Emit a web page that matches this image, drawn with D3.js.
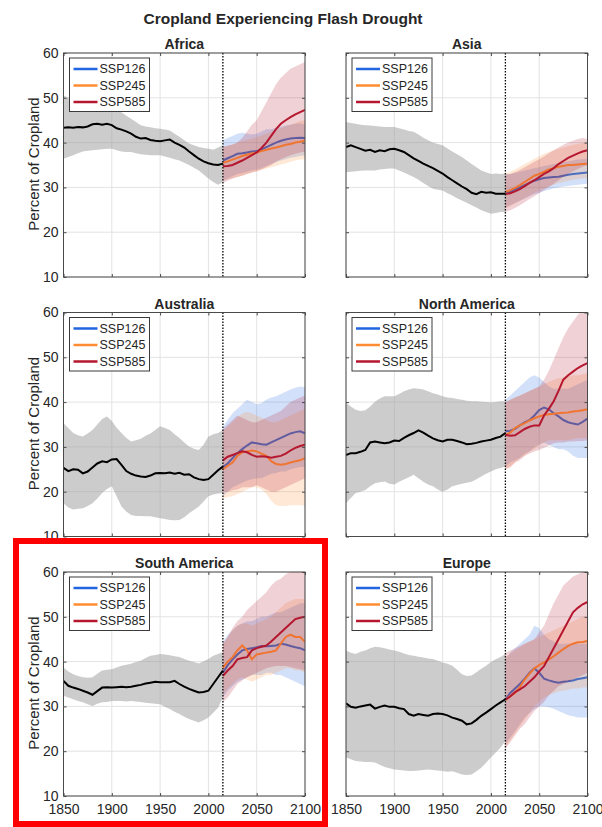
<!DOCTYPE html>
<html><head><meta charset="utf-8">
<script src="https://cdn.jsdelivr.net/npm/d3@7"></script>
<style>body{margin:0;background:#fff} svg{display:block;font-family:"Liberation Sans",Arial,Helvetica,sans-serif}</style>
</head><body><svg id="c" width="602" height="827"></svg>
<script>
const histYears = [1850,1855,1860,1865,1870,1875,1880,1885,1890,1895,1900,1905,1910,1915,1920,1925,1930,1935,1940,1945,1950,1955,1960,1965,1970,1975,1980,1985,1990,1995,2000,2005,2010,2015];
const futYears = [2015,2020,2025,2030,2035,2040,2045,2050,2055,2060,2065,2070,2075,2080,2085,2090,2095,2100];
const scenarios = ["SSP126","SSP245","SSP585"];
const scenarioColors = ["#2166e0","#ff8c32","#b5172f"];
const xTicks = [1850,1900,1950,2000,2050,2100];
const yTicks = [10,20,30,40,50,60];
const regions = ["Africa","Asia","Australia","North America","South America","Europe"];
const chartTitle = "Cropland Experiencing Flash Drought";
const yLabel = "Percent of Cropland";

// ---- Africa ----
const africaMean = [43.3,43.4,43.3,43.5,43.4,43.6,44.1,44.2,44.0,44.2,43.9,43.2,42.9,42.5,42.0,41.3,40.9,41.0,40.6,40.4,40.3,40.5,40.7,40.0,39.5,38.9,38.0,37.2,36.4,35.8,35.4,35.1,35.0,35.3];
const africaHi = [50.5,50.0,49.4,48.8,48.3,48.5,48.8,49.3,49.5,48.9,48.3,47.5,46.8,46.0,45.3,44.6,43.9,43.6,43.4,43.2,43.1,42.9,42.7,42.0,41.3,40.5,39.8,39.4,39.0,38.8,38.6,38.4,38.9,39.4];
const africaLo = [36.4,36.8,37.2,37.6,38.0,38.2,38.3,38.4,38.5,38.6,38.6,38.3,38.0,37.9,37.9,37.6,37.4,37.3,37.2,37.2,37.2,36.9,36.6,36.3,36.0,35.5,35.0,34.4,33.8,32.9,32.0,31.2,30.6,31.2];
const africa126 = [36.0,36.5,37.0,37.5,37.6,37.8,38.0,38.1,38.5,39.0,39.5,40.0,40.4,40.7,40.9,41.0,41.1,41.0];
const africa126Hi = [40.5,41.0,41.5,42.0,42.2,42.0,41.8,42.0,42.5,43.0,43.0,43.3,43.5,43.8,44.0,44.2,44.3,44.0];
const africa126Lo = [31.5,32.0,32.5,33.0,33.2,33.5,33.8,34.0,34.3,34.8,35.2,35.6,36.0,36.3,36.6,36.8,37.0,37.2];
const africa245 = [35.5,35.8,36.2,36.6,37.0,37.3,37.6,37.8,38.1,38.4,38.7,38.9,39.2,39.5,39.7,40.0,40.2,40.5];
const africa245Hi = [39.0,39.3,39.6,40.0,40.3,40.6,40.9,41.2,41.6,42.0,42.4,42.8,43.2,43.6,44.0,44.4,44.8,45.0];
const africa245Lo = [31.5,31.8,32.0,32.3,32.6,33.0,33.3,33.6,33.9,34.2,34.5,34.8,35.1,35.4,35.7,36.0,36.2,36.3];
const africa585 = [34.7,34.8,35.0,35.5,36.0,36.6,37.2,37.8,38.8,40.0,41.5,43.0,44.2,45.0,45.7,46.3,46.8,47.3];
const africa585Hi = [39.0,39.3,39.6,40.0,41.0,42.5,44.0,45.0,47.0,49.0,51.0,53.0,54.5,55.5,56.5,57.0,57.5,58.0];
const africa585Lo = [31.0,31.5,32.0,32.3,32.6,33.0,33.3,33.6,34.0,34.5,35.0,35.8,36.3,36.8,37.2,37.5,37.8,38.0];

// ---- Asia ----
const asiaMean = [39.0,39.4,39.0,38.6,38.2,38.4,37.9,38.3,38.1,38.5,38.6,38.3,37.9,37.2,36.5,35.9,35.3,34.8,34.3,33.7,33.1,32.3,31.6,30.9,30.2,29.6,28.8,28.5,29.0,28.8,28.9,28.6,28.6,28.6];
const asiaHi = [44.6,44.4,44.2,44.0,43.9,43.8,43.7,43.6,43.5,43.5,43.5,43.2,42.9,42.6,42.4,41.8,41.1,40.5,40.0,39.7,39.4,38.7,38.0,37.4,36.8,36.0,35.2,34.5,33.8,33.4,33.0,33.1,33.0,33.1];
const asiaLo = [33.4,33.5,33.6,33.7,33.8,33.8,33.8,34.0,34.1,34.2,34.2,33.8,33.3,32.8,32.3,31.7,31.0,30.3,29.7,29.5,29.3,28.7,28.2,27.6,27.1,26.6,26.0,25.5,24.9,24.5,24.1,24.3,24.5,24.5];
const asia126 = [28.6,29.0,29.5,30.0,30.5,31.0,31.5,31.8,32.1,32.2,32.3,32.4,32.6,32.8,33.0,33.1,33.2,33.3];
const asia126Hi = [33.0,33.0,33.2,33.5,33.8,34.0,34.3,34.5,34.8,35.0,35.2,35.4,35.6,35.8,36.0,36.2,36.3,36.4];
const asia126Lo = [25.5,26.0,26.5,27.0,27.5,28.0,28.5,28.8,29.2,29.5,29.8,30.0,30.2,30.3,30.5,30.6,30.7,30.8];
const asia245 = [29.0,29.4,29.9,30.5,31.2,31.9,32.6,33.0,33.5,34.0,34.3,34.6,34.8,35.0,35.0,35.1,35.2,35.3];
const asia245Hi = [33.2,33.5,34.0,34.6,35.2,35.8,36.4,37.0,37.5,37.9,38.3,38.6,38.9,39.2,39.5,39.7,39.9,40.0];
const asia245Lo = [25.3,25.8,26.4,27.0,27.6,28.2,28.8,29.3,29.8,30.2,30.6,31.0,31.2,31.5,31.7,31.9,32.0,32.1];
const asia585 = [28.5,28.7,29.1,29.6,30.3,31.0,31.6,32.3,33.0,33.6,34.3,35.2,35.9,36.6,37.1,37.6,38.0,38.3];
const asia585Hi = [32.8,33.0,33.4,33.9,34.5,35.1,35.7,36.3,36.9,37.6,38.3,38.9,39.5,40.0,40.4,40.8,41.0,40.8];
const asia585Lo = [24.5,24.9,25.4,26.0,26.7,27.4,28.0,28.7,29.4,30.1,30.8,31.6,32.3,33.0,33.6,34.1,34.6,35.0];

// ---- Australia ----
const australiaMean = [25.3,24.6,25.0,24.9,24.1,24.5,25.4,26.3,26.8,26.6,27.2,27.3,26.0,24.6,24.0,23.6,23.4,23.3,23.6,24.1,24.2,24.1,24.3,24.0,24.2,23.8,23.9,23.2,22.8,22.6,22.8,23.8,24.8,25.6];
const australiaHi = [35.3,34.2,33.1,32.6,32.3,33.0,33.8,35.0,36.2,36.8,35.8,34.3,33.1,32.0,31.2,31.5,31.8,32.5,33.0,33.8,34.6,34.2,33.8,32.8,32.0,31.0,30.1,29.6,29.3,30.5,32.3,32.8,33.1,33.8];
const australiaLo = [17.4,16.5,16.0,16.2,16.3,16.8,17.4,18.5,19.7,20.6,21.2,19.0,16.7,15.6,14.8,14.6,14.6,14.5,14.5,14.3,14.1,13.9,13.7,13.6,13.7,14.3,15.2,15.9,16.7,17.8,19.0,19.4,19.6,19.7];
const australia126 = [25.5,26.3,27.5,28.6,29.5,30.3,31.0,30.8,30.6,30.5,31.0,31.5,32.0,32.5,33.0,33.3,33.5,33.0];
const australia126Hi = [34.5,36.0,37.5,38.5,39.5,40.5,40.0,39.5,39.8,40.5,41.0,41.3,41.8,42.3,42.8,43.2,43.5,43.3];
const australia126Lo = [19.0,20.0,21.0,21.5,22.0,22.5,22.8,23.0,23.0,23.5,24.0,24.2,24.5,24.5,25.0,25.3,25.5,25.5];
const australia245 = [25.0,25.8,26.5,28.0,28.8,29.0,29.2,29.0,28.5,28.0,26.8,26.2,26.0,26.2,26.5,26.8,27.0,27.5];
const australia245Hi = [33.5,34.5,35.5,36.5,37.5,37.8,37.5,37.0,36.5,36.0,35.5,35.5,36.0,36.5,37.0,37.5,38.0,38.5];
const australia245Lo = [18.5,18.8,19.0,19.5,20.0,20.5,21.0,21.0,20.5,19.5,18.0,17.0,16.8,16.8,17.0,17.0,17.0,16.8];
const australia585 = [27.0,27.8,28.2,28.6,29.0,28.8,28.2,27.8,27.9,27.8,27.6,27.8,28.0,28.5,29.2,29.8,30.2,30.5];
const australia585Hi = [34.0,35.0,36.0,37.0,36.5,36.0,35.5,35.5,36.0,36.5,37.0,37.5,38.0,39.0,40.0,40.5,41.0,41.5];
const australia585Lo = [20.0,20.0,20.3,20.5,21.0,21.0,21.0,21.5,21.0,20.5,20.0,20.0,20.5,21.0,21.5,22.0,22.5,23.0];

// ---- North America ----
const northAmericaMean = [28.2,28.6,28.6,28.9,29.3,31.0,31.2,31.0,30.8,31.0,31.4,31.3,32.0,32.6,33.1,33.7,33.2,32.5,31.9,31.5,31.2,31.6,31.6,31.3,31.0,30.6,30.7,30.9,31.2,31.4,31.6,32.0,32.3,33.1];
const northAmericaHi = [39.8,39.0,38.3,38.0,38.2,39.0,40.1,40.8,41.3,41.3,41.3,41.8,42.4,42.8,43.1,43.0,42.8,42.4,42.0,41.7,41.3,41.0,40.9,40.7,40.5,40.3,40.2,40.2,40.1,40.0,39.9,40.0,40.2,40.2];
const northAmericaLo = [17.4,18.6,19.7,20.0,20.4,21.2,21.9,22.1,22.3,21.8,21.6,22.2,22.7,23.2,23.8,23.0,22.2,21.6,21.2,20.5,20.0,20.5,21.2,21.5,21.8,22.0,22.2,22.8,23.4,24.0,24.5,25.0,25.3,25.6];
const northAmerica126 = [33.5,33.6,34.0,34.8,35.5,36.0,37.0,38.2,38.8,38.4,37.5,36.8,36.0,35.5,35.2,35.0,35.6,36.3];
const northAmerica126Hi = [40.5,41.5,42.5,43.5,44.5,45.5,46.0,45.5,44.5,43.5,43.0,43.0,43.0,43.0,43.5,44.0,44.5,45.0];
const northAmerica126Lo = [25.5,26.5,27.0,27.5,28.5,29.0,30.0,30.5,31.0,30.5,30.0,29.5,29.5,29.0,28.0,27.5,27.5,27.5];
const northAmerica245 = [32.7,33.2,34.2,34.8,35.3,35.9,36.4,36.8,37.1,37.3,37.4,37.5,37.6,37.7,37.9,38.0,38.2,38.4];
const northAmerica245Hi = [40.0,40.5,41.0,41.5,42.0,42.5,43.0,43.5,44.0,44.5,45.0,45.3,45.5,45.8,46.0,46.0,46.2,46.5];
const northAmerica245Lo = [25.0,25.5,26.5,27.5,28.0,29.0,29.5,30.5,31.0,31.5,31.5,31.5,31.5,31.5,31.8,32.0,32.0,32.0];
const northAmerica585 = [32.7,32.5,32.6,33.3,34.0,34.5,34.8,34.8,37.0,38.5,40.2,42.5,45.0,46.0,46.8,47.6,48.2,48.7];
const northAmerica585Hi = [40.0,40.5,41.0,41.5,42.0,42.5,43.0,43.5,45.0,47.0,49.5,52.0,54.5,56.5,58.0,59.5,60.5,61.0];
const northAmerica585Lo = [25.0,25.5,26.5,27.0,28.0,28.5,29.0,29.3,29.8,30.3,30.8,31.0,31.0,31.2,31.2,31.3,31.3,31.5];

// ---- South America ----
const southAmericaMean = [35.7,34.6,34.2,33.9,33.5,33.1,32.6,33.4,34.2,34.3,34.2,34.3,34.4,34.3,34.4,34.6,34.8,35.1,35.3,35.5,35.4,35.4,35.4,35.7,35.0,34.4,33.9,33.5,33.1,33.2,33.5,35.0,36.5,38.0];
const southAmericaHi = [38.7,37.8,37.2,36.8,36.5,36.4,36.5,37.3,38.0,38.2,38.3,38.7,39.1,39.3,39.5,39.9,40.2,40.8,41.3,41.5,41.7,41.6,41.4,41.2,41.0,40.6,40.2,39.9,39.6,40.1,40.6,41.3,41.7,42.1];
const southAmericaLo = [32.4,32.0,31.6,31.2,30.9,30.5,30.1,30.6,30.9,31.0,31.2,31.2,31.2,31.1,31.2,31.1,31.0,30.8,30.7,30.6,30.5,29.9,29.4,28.8,28.3,27.7,27.2,26.8,26.4,26.9,27.5,28.6,29.7,32.0];
const southAmerica126 = [37.5,39.2,40.5,41.6,42.5,42.8,43.0,43.2,43.5,43.4,43.5,43.6,44.0,43.8,43.5,43.2,43.0,42.5];
const southAmerica126Hi = [44.5,46.0,47.0,48.0,48.5,49.0,49.0,49.5,50.0,50.0,50.5,51.0,51.0,51.5,52.0,52.5,53.0,53.0];
const southAmerica126Lo = [32.0,33.5,34.5,35.5,36.0,36.5,37.0,37.0,37.0,37.5,37.5,37.0,37.0,36.5,36.0,35.5,35.0,34.5];
const southAmerica245 = [38.6,40.0,41.0,42.5,43.6,42.5,40.5,41.6,41.8,42.0,42.2,42.5,44.0,45.5,46.0,45.5,45.5,44.4];
const southAmerica245Hi = [44.0,45.5,47.0,48.0,48.5,48.5,48.0,48.5,49.0,49.5,50.0,51.0,52.0,53.0,53.5,54.0,54.0,54.0];
const southAmerica245Lo = [32.5,34.0,35.0,36.0,36.5,36.0,35.5,36.0,36.5,37.0,37.0,37.5,38.0,38.5,38.5,38.0,38.0,37.5];
const southAmerica585 = [36.8,38.0,39.0,40.5,40.8,41.0,42.5,43.0,43.3,43.6,44.5,45.5,46.5,47.5,48.5,49.5,49.8,50.0];
const southAmerica585Hi = [44.0,45.5,47.5,49.0,50.0,51.5,52.5,53.5,54.5,55.5,57.0,58.0,58.5,59.5,60.0,60.5,60.5,60.0];
const southAmerica585Lo = [31.0,32.0,33.5,35.0,35.8,36.5,37.0,37.5,38.0,38.5,38.8,39.0,39.0,39.0,38.8,38.5,38.3,38.0];

// ---- Europe ----
const europeMean = [30.7,29.9,29.7,30.0,30.2,30.4,29.5,29.9,30.2,29.9,29.9,29.6,29.4,28.3,27.9,28.3,28.1,27.9,28.3,28.4,28.3,28.0,27.5,27.2,26.8,26.0,26.2,27.0,27.9,28.6,29.4,30.2,30.9,31.6];
const europeHi = [42.5,42.0,41.7,42.2,42.5,43.0,43.3,43.2,43.0,42.7,42.5,42.2,41.8,41.5,41.3,41.1,40.9,40.7,40.6,40.2,39.8,39.5,39.1,38.2,37.2,36.8,36.9,37.6,38.4,39.1,39.9,40.5,41.0,41.7];
const europeLo = [18.6,18.2,17.8,17.7,17.6,17.6,17.5,17.0,16.5,16.2,15.9,15.8,15.7,15.6,15.6,15.7,15.8,15.9,15.8,15.7,15.6,15.4,15.5,15.2,14.8,14.7,14.8,15.5,16.3,17.4,18.6,19.7,20.8,22.3];
const europe126 = [31.5,33.0,34.0,35.0,36.2,37.5,38.5,37.5,36.2,35.8,35.5,35.3,35.5,35.6,35.8,36.1,36.3,36.5];
const europe126Hi = [40.5,42.0,43.0,44.0,45.0,46.0,48.0,47.5,46.0,45.0,44.5,44.0,44.0,44.0,44.0,44.0,44.0,44.0];
const europe126Lo = [21.5,23.0,24.5,26.0,27.5,28.5,29.5,30.0,30.0,29.8,29.5,29.0,28.5,28.0,27.8,27.5,27.5,27.5];
const europe245 = [31.5,32.3,33.0,34.3,36.0,37.3,38.5,39.2,39.8,40.5,41.2,42.0,42.8,43.5,44.0,44.3,44.4,44.6];
const europe245Hi = [41.0,41.8,42.5,43.2,44.0,44.5,45.0,45.5,46.0,46.5,47.0,47.5,48.0,48.5,49.0,49.5,50.0,50.0];
const europe245Lo = [21.0,22.5,24.0,25.5,27.0,28.5,30.0,31.0,32.0,32.5,33.0,33.3,33.5,33.7,34.0,34.0,34.2,34.3];
const europe585 = [31.5,32.2,33.2,33.8,34.5,35.5,36.5,37.8,39.0,41.0,43.0,45.0,47.0,49.0,51.0,52.0,52.8,53.3];
const europe585Hi = [42.0,42.5,43.0,43.5,44.0,44.5,45.0,46.5,48.0,50.5,53.0,55.0,57.0,58.0,59.0,59.5,60.0,60.0];
const europe585Lo = [20.5,22.0,23.5,25.0,26.0,27.5,29.0,30.0,31.0,32.5,33.5,34.5,35.0,35.5,36.0,36.5,37.0,37.5];

const panels = [
  {hist:[africaMean,africaLo,africaHi], fut:[[africa126,africa126Lo,africa126Hi],[africa245,africa245Lo,africa245Hi],[africa585,africa585Lo,africa585Hi]]},
  {hist:[asiaMean,asiaLo,asiaHi], fut:[[asia126,asia126Lo,asia126Hi],[asia245,asia245Lo,asia245Hi],[asia585,asia585Lo,asia585Hi]]},
  {hist:[australiaMean,australiaLo,australiaHi], fut:[[australia126,australia126Lo,australia126Hi],[australia245,australia245Lo,australia245Hi],[australia585,australia585Lo,australia585Hi]]},
  {hist:[northAmericaMean,northAmericaLo,northAmericaHi], fut:[[northAmerica126,northAmerica126Lo,northAmerica126Hi],[northAmerica245,northAmerica245Lo,northAmerica245Hi],[northAmerica585,northAmerica585Lo,northAmerica585Hi]]},
  {hist:[southAmericaMean,southAmericaLo,southAmericaHi], fut:[[southAmerica126,southAmerica126Lo,southAmerica126Hi],[southAmerica245,southAmerica245Lo,southAmerica245Hi],[southAmerica585,southAmerica585Lo,southAmerica585Hi]]},
  {hist:[europeMean,europeLo,europeHi], fut:[[europe126,europe126Lo,europe126Hi],[europe245,europe245Lo,europe245Hi],[europe585,europe585Lo,europe585Hi]]}
];

const svg = d3.select("#c");
const W = 241.5, H = 224;
const colX = [63.5, 346], rowY = [53, 312.5, 572];
const axisColor = "#4a4a4a", textColor = "#262626";

svg.append("text").attr("x", 283).attr("y", 24).attr("text-anchor","middle")
  .attr("font-size", 15.5).attr("font-weight","bold").attr("fill", textColor).text(chartTitle);

panels.forEach((p, i) => {
  const col = i % 2, row = Math.floor(i / 2);
  const g = svg.append("g").attr("transform", `translate(${colX[col]},${rowY[row]})`);
  const x = d3.scaleLinear().domain([1850, 2100]).range([0, W]);
  const y = d3.scaleLinear().domain([10, 60]).range([H, 0]);

  const cid = "clip" + i;
  g.append("clipPath").attr("id", cid).append("rect").attr("width", W).attr("height", H);

  // grid
  g.append("g").selectAll("line").data(xTicks).join("line")
    .attr("x1", d => x(d)).attr("x2", d => x(d)).attr("y1", 0).attr("y2", H)
    .attr("stroke", "#e3e3e3").attr("stroke-width", 1);
  g.append("g").selectAll("line").data(yTicks).join("line")
    .attr("y1", d => y(d)).attr("y2", d => y(d)).attr("x1", 0).attr("x2", W)
    .attr("stroke", "#e3e3e3").attr("stroke-width", 1);

  const plot = g.append("g").attr("clip-path", `url(#${cid})`);

  // historical band
  const hArea = d3.area().x((d, k) => x(histYears[k])).y0((d, k) => y(p.hist[1][k])).y1((d, k) => y(p.hist[2][k]));
  plot.append("path").attr("d", hArea(histYears)).attr("fill", "#9a9a9a").attr("fill-opacity", 0.5);

  // future scenarios: band then line, in order
  p.fut.forEach((s, j) => {
    const fArea = d3.area().x((d, k) => x(futYears[k])).y0((d, k) => y(s[1][k])).y1((d, k) => y(s[2][k]));
    plot.append("path").attr("d", fArea(futYears)).attr("fill", scenarioColors[j]).attr("fill-opacity", 0.2);
    const fLine = d3.line().x((d, k) => x(futYears[k])).y(d => y(d));
    plot.append("path").attr("d", fLine(s[0])).attr("fill", "none")
      .attr("stroke", scenarioColors[j]).attr("stroke-width", 2);
  });

  const hLine = d3.line().x((d, k) => x(histYears[k])).y(d => y(d));
  plot.append("path").attr("d", hLine(p.hist[0])).attr("fill", "none").attr("stroke", "#000").attr("stroke-width", 2);

  // 2015 dotted line
  g.append("line").attr("x1", x(2015)).attr("x2", x(2015)).attr("y1", 0).attr("y2", H)
    .attr("stroke", "#000").attr("stroke-width", 1.3).attr("stroke-dasharray", "1.5,1.5");

  // axes (ticks inside, on all sides)
  const fmtX = row === 2 ? d3.format("d") : () => "";
  const fmtY = col === 0 ? d3.format("d") : () => "";
  const styleAxis = a => {
    a.select(".domain").remove();
    a.selectAll("line").attr("stroke", axisColor);
    a.selectAll("text").attr("fill", textColor).attr("font-size", 14).attr("font-family", '"Liberation Sans",Arial,sans-serif');
  };
  g.append("g").attr("transform", `translate(0,${H})`)
    .call(d3.axisBottom(x).tickValues(xTicks).tickSize(-3).tickPadding(8).tickFormat(fmtX)).call(styleAxis);
  g.append("g").call(d3.axisTop(x).tickValues(xTicks).tickSize(-3).tickFormat(() => "")).call(styleAxis);
  g.append("g").call(d3.axisLeft(y).tickValues(yTicks).tickSize(-3).tickPadding(5).tickFormat(fmtY)).call(styleAxis);
  g.append("g").attr("transform", `translate(${W},0)`)
    .call(d3.axisRight(y).tickValues(yTicks).tickSize(-3).tickFormat(() => "")).call(styleAxis);

  g.append("rect").attr("width", W).attr("height", H).attr("fill", "none")
    .attr("stroke", axisColor).attr("stroke-width", 1);

  // panel title
  g.append("text").attr("x", W / 2).attr("y", -4).attr("text-anchor", "middle")
    .attr("font-size", 14).attr("font-weight", "bold").attr("fill", textColor).text(regions[i]);

  // y label
  if (col === 0) {
    g.append("text").attr("transform", `translate(${39 - colX[0]},${H / 2 - 1}) rotate(-90)`)
      .attr("text-anchor", "middle").attr("font-size", 15).attr("fill", textColor).text(yLabel);
  }

  // legend
  const lg = g.append("g").attr("transform", "translate(6,5)");
  lg.append("rect").attr("width", 80).attr("height", 53.5).attr("fill", "#fff").attr("stroke", "#3a3a3a").attr("stroke-width", 1);
  scenarios.forEach((s, j) => {
    const yy = 11 + j * 16.5;
    lg.append("line").attr("x1", 4).attr("x2", 28).attr("y1", yy).attr("y2", yy)
      .attr("stroke", scenarioColors[j]).attr("stroke-width", 2.5);
    lg.append("text").attr("x", 30).attr("y", yy).attr("dy", "0.35em")
      .attr("font-size", 12.5).attr("fill", textColor).text(s);
  });
});

// highlight box around South America panel
svg.append("rect").attr("x", 16).attr("y", 541).attr("width", 309).attr("height", 283)
  .attr("fill", "none").attr("stroke", "#ff0000").attr("stroke-width", 6);
</script></body></html>
